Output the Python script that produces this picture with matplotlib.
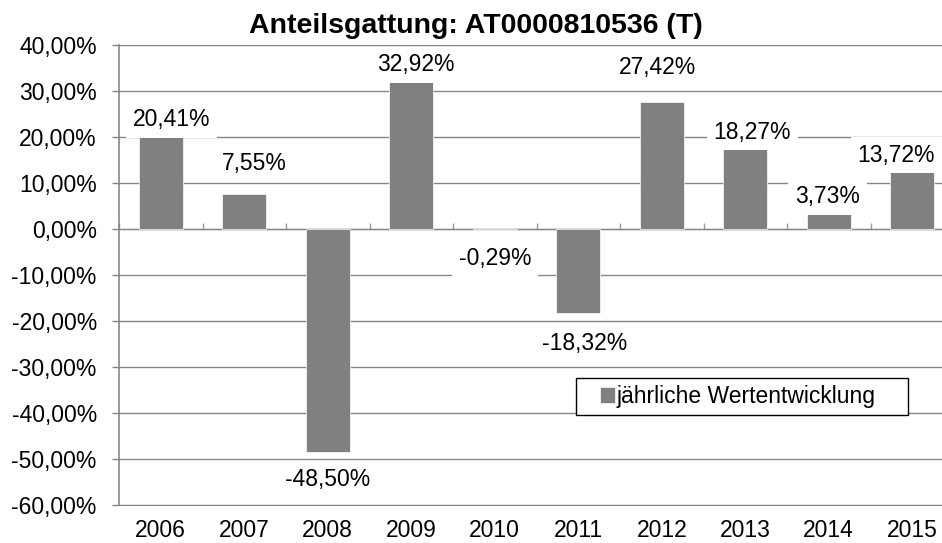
import numpy as np
import matplotlib.pyplot as plt
from matplotlib.ticker import FuncFormatter
from matplotlib.patches import Rectangle
from matplotlib.container import BarContainer
from matplotlib.legend_handler import HandlerPatch, update_from_first_child

plt.rcParams['font.family'] = ['Liberation Sans', 'DejaVu Sans']

# data
years = ['2006', '2007', '2008', '2009', '2010', '2011', '2012', '2013', '2014', '2015']
bar_values = [20.4, 7.6, -48.4, 32.2, -0.29, -18.2, 27.5, 17.6, 3.5, 12.6]
label_values = [20.41, 7.55, -48.50, 32.92, -0.29, -18.32, 27.42, 18.27, 3.73, 13.72]
title = 'Anteilsgattung: AT0000810536 (T)'
series_name = 'jährliche Wertentwicklung'


def pct(v):
    return f'{v:.2f}%'.replace('.', ',')


def square_right(legend, orig_handle, xdescent, ydescent, width, height, fontsize):
    # small square sitting at the right end of the handle box
    return Rectangle((-xdescent + width - height, -ydescent), height, height)


def main():
    grid_col = '#868686'
    fs = 16.5

    fig = plt.figure(figsize=(9.42, 5.43), dpi=100)
    # axes run a bit past the right edge, as in the original
    ax = fig.add_axes([119 / 942, 38 / 543, 835 / 942, 460 / 543])

    x = np.arange(len(years))
    ax.bar(x, bar_values, width=0.53, color='#808080', edgecolor='white',
           linewidth=0.5, label=series_name, zorder=2)

    ax.set_xlim(-0.5, len(years) - 0.5)
    ax.set_ylim(-60, 40)
    ax.set_yticks(np.arange(-60, 41, 10))
    ax.yaxis.set_major_formatter(FuncFormatter(lambda v, p: pct(v)))
    ax.grid(axis='y', color=grid_col, lw=1.0, zorder=0)
    ax.set_axisbelow(True)

    ax.set_xticks(x, years)
    ax.tick_params(axis='x', length=0, pad=10, labelsize=fs)
    ax.tick_params(axis='y', length=5, width=1, color=grid_col, pad=11, labelsize=fs)
    for s in ['top', 'right']:
        ax.spines[s].set_visible(False)
    ax.spines['bottom'].set_color(grid_col)
    ax.spines['left'].set_color(grid_col)
    ax.spines['left'].set_linewidth(1.2)

    # category axis drawn at zero with boundary ticks
    zero_frac = (0 - ax.get_ylim()[0]) / (ax.get_ylim()[1] - ax.get_ylim()[0])
    sec = ax.secondary_xaxis(zero_frac)
    bounds = np.arange(-0.5, len(years), 1)
    sec.set_xticks(bounds, labels=[''] * len(bounds))
    sec.tick_params(length=4.5, width=1, color='#9a9a9a')
    sec.spines['bottom'].set_color(grid_col)

    # value labels (several were moved by hand in the original)
    shift_x_px = [11, 10, 0, 5, 0, 6, -4, 7, -1, -16]
    shift_y_px = [16, 31, -28, 16, -28, -31, 35, 16, 16, 16]
    for xi, v, lab, dx, dy in zip(x, bar_values, label_values, shift_x_px, shift_y_px):
        ax.annotate(pct(lab), (xi, v), xytext=(dx, dy), textcoords='offset pixels',
                    ha='center', va='center', fontsize=fs, zorder=3,
                    bbox=dict(boxstyle='square,pad=0.3', fc='white', ec='none'))

    handler = HandlerPatch(patch_func=square_right, update_func=update_from_first_child)
    leg = ax.legend(loc='center', bbox_to_anchor=(576 / 942, 1 - 414 / 543, 332 / 942, 35 / 543),
                    bbox_transform=fig.transFigure, mode='expand', borderaxespad=0,
                    frameon=True, fancybox=False, edgecolor='black', framealpha=1,
                    handlelength=1.4, handleheight=0.65, handletextpad=0.09,
                    borderpad=0.3, fontsize=fs,
                    handler_map={BarContainer: handler})
    leg.get_frame().set_linewidth(1.0)

    fig.text(476 / 942, 1 - 33 / 543, title, ha='center', va='baseline',
             fontsize=20.5, fontweight='bold')

    fig.savefig('out.png', dpi=100)


if __name__ == '__main__':
    main()
